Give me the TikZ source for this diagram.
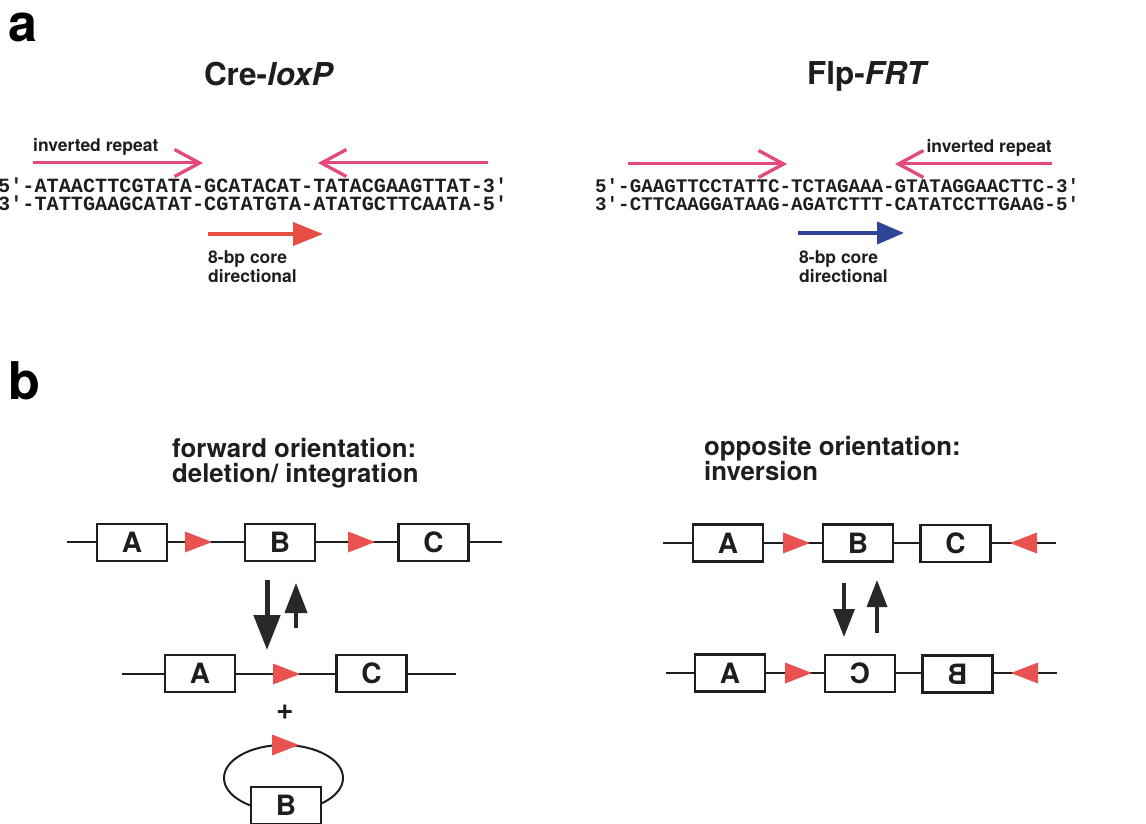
\documentclass[tikz,border=0pt]{standalone}
\usepackage{fontspec}
\setmainfont{TeX Gyre Heros}
\newfontfamily\seqfont{Liberation Mono}
\usetikzlibrary{arrows.meta}
\definecolor{pinkarr}{RGB}{228,72,125}
\definecolor{redarr}{RGB}{232,78,68}
\definecolor{bluearr}{RGB}{48,68,150}
\definecolor{tricol}{RGB}{234,82,80}
\definecolor{darkarr}{RGB}{40,40,40}
\definecolor{inkc}{RGB}{30,30,30}
\begin{document}
\begin{tikzpicture}[x=1pt,y=-1pt,
  panel/.style={font=\fontsize{52}{52}\selectfont\bfseries, anchor=base west, inner sep=0pt},
  title/.style={font=\fontsize{31.5}{31.5}\selectfont\bfseries, anchor=base, inner sep=0pt, text=inkc},
  lbl/.style={font=\fontsize{17.5}{18.5}\selectfont\bfseries, inner sep=0pt, align=left, text=inkc},
  seqL/.style={font=\seqfont\bfseries\fontsize{20.2}{20.2}\selectfont, anchor=base west, inner sep=0pt, text=inkc},
  seqR/.style={font=\seqfont\bfseries\fontsize{19.2}{19.2}\selectfont, anchor=base west, inner sep=0pt, text=inkc},
  head/.style={font=\fontsize{25.8}{25}\selectfont\bfseries, align=left, inner sep=0pt, anchor=base west, text=inkc},
  box/.style={draw=inkc, line width=2.3pt, fill=white, minimum width=70pt, minimum height=37pt, inner sep=0pt, font=\fontsize{28}{28}\selectfont\bfseries, text=inkc},
  dna/.style={draw=inkc, line width=2pt},
  pinkline/.style={draw=pinkarr, line width=3pt, -{Straight Barb[length=25pt,width=27pt,line width=3.3pt]}},
  corearrow/.style={line width=4pt, -{Triangle[length=30pt,width=23pt]}},
  bigarrow/.style={draw=darkarr, line width=5pt, -{Triangle[length=35pt,width=26pt]}},
  smallarrow/.style={draw=darkarr, line width=3.5pt, -{Triangle[length=28pt,width=21pt]}},
  pics/rtri/.style={code={\fill[tricol] (0,-10.5) -- (27,0) -- (0,10.5) -- cycle;}},
  pics/ltri/.style={code={\fill[tricol] (0,-10.5) -- (-27,0) -- (0,10.5) -- cycle;}}
]
\useasboundingbox[fill=white] (0,0) rectangle (1146,824);

% ---------- panel a ----------
\node[panel] (la) at (8,42) {a};
\node[title] (tcre) at (269,86) {Cre-\textit{loxP}};
\node[title] (tflp) at (868,85) {Flp-\textit{FRT}};

% Cre-loxP
\node[lbl, anchor=base west] (irL) at (33,152) {inverted repeat};
\coordinate (pL1s) at (33,163); \coordinate (pL1e) at (203,163);
\coordinate (pL2s) at (488,163); \coordinate (pL2e) at (318,163);
\draw[pinkline] (pL1s) -- (pL1e);
\draw[pinkline] (pL2s) -- (pL2e);
\node[seqL] (sL1) at (-2,192) {5'-ATAACTTCGTATA-GCATACAT-TATACGAAGTTAT-3'};
\node[seqL] (sL2) at (-2,210) {3'-TATTGAAGCATAT-CGTATGTA-ATATGCTTCAATA-5'};
\coordinate (cLs) at (208,234); \coordinate (cLe) at (323,234);
\draw[corearrow, draw=redarr, fill=redarr] (cLs) -- (cLe);
\node[lbl, anchor=base west] (coreL) at (208,282) {8-bp core\\directional};

% Flp-FRT
\node[lbl, anchor=base east] (irR) at (1052,153) {inverted repeat};
\coordinate (pR1s) at (628,164); \coordinate (pR1e) at (787,164);
\coordinate (pR2s) at (1052,164); \coordinate (pR2e) at (895,164);
\draw[pinkline] (pR1s) -- (pR1e);
\draw[pinkline] (pR2s) -- (pR2e);
\node[seqR] (sR1) at (595,192) {5'-GAAGTTCCTATTC-TCTAGAAA-GTATAGGAACTTC-3'};
\node[seqR] (sR2) at (595,210) {3'-CTTCAAGGATAAG-AGATCTTT-CATATCCTTGAAG-5'};
\coordinate (cRs) at (798,233); \coordinate (cRe) at (904,233);
\draw[corearrow, draw=bluearr, fill=bluearr, -{Triangle[length=27pt,width=22pt]}] (cRs) -- (cRe);
\node[lbl, anchor=base west] (coreR) at (799,282) {8-bp core\\directional};

% ---------- panel b ----------
\node[panel] (lb) at (8,399) {b};
\node[head] (hL) at (172,482) {forward orientation:\\deletion/ integration};
\node[head] (hR) at (704,480) {opposite orientation:\\inversion};

% forward: top row
\coordinate (f1s) at (67,542); \coordinate (f1e) at (502,542);
\draw[dna] (f1s) -- (f1e);
\node[box] (fA1) at (132,542.5) {A};
\node[box] (fB1) at (280,542.5) {B};
\node[box] (fC1) at (433.5,542.5) {C};
\pic at (185,542) {rtri};
\pic at (348,542) {rtri};

% forward: arrows
\coordinate (fd1) at (267,580); \coordinate (fd2) at (267,650);
\coordinate (fu1) at (296,628); \coordinate (fu2) at (296,583);
\draw[bigarrow] (fd1) -- (fd2);
\draw[draw=darkarr, line width=4pt, -{Triangle[length=30pt,width=22pt]}] (fu1) -- (fu2);

% forward: second row
\coordinate (f2s) at (122,674); \coordinate (f2e) at (456,674);
\draw[dna] (f2s) -- (f2e);
\node[box] (fA2) at (200,673.5) {A};
\node[box] (fC2) at (371.5,673.5) {C};
\pic at (273,674) {rtri};

\node[font=\fontsize{30}{30}\selectfont\bfseries, text=inkc, inner sep=0pt] (plus) at (285,712) {+};

% circle with B
\draw[dna] (283.5,778) ellipse [x radius=59.5, y radius=33];
\pic at (272,745) {rtri};
\node[box] (fB3) at (286,805.5) {B};

% opposite: top row
\coordinate (o1s) at (663,543); \coordinate (o1e) at (1056,543);
\draw[dna] (o1s) -- (o1e);
\node[box] (oA1) at (728,543) {A};
\node[box] (oB1) at (858,543) {B};
\node[box] (oC1) at (955.5,543.5) {C};
\pic at (783,543) {rtri};
\pic at (1037,543) {ltri};

% opposite: arrows
\coordinate (od1) at (844,583); \coordinate (od2) at (844,637);
\coordinate (ou1) at (877,633); \coordinate (ou2) at (877,580);
\draw[smallarrow] (od1) -- (od2);
\draw[smallarrow, -{Triangle[length=27pt,width=20pt]}] (ou1) -- (ou2);

% opposite: bottom row
\coordinate (o2s) at (666,673); \coordinate (o2e) at (1057,673);
\draw[dna] (o2s) -- (o2e);
\node[box] (oA2) at (730,673) {A};
\node[box] (oC2) at (860,673.5) {\reflectbox{C}};
\node[box] (oB2) at (957.5,674) {\reflectbox{B}};
\pic at (785,673) {rtri};
\pic at (1038,673) {ltri};
\end{tikzpicture}
\end{document}
